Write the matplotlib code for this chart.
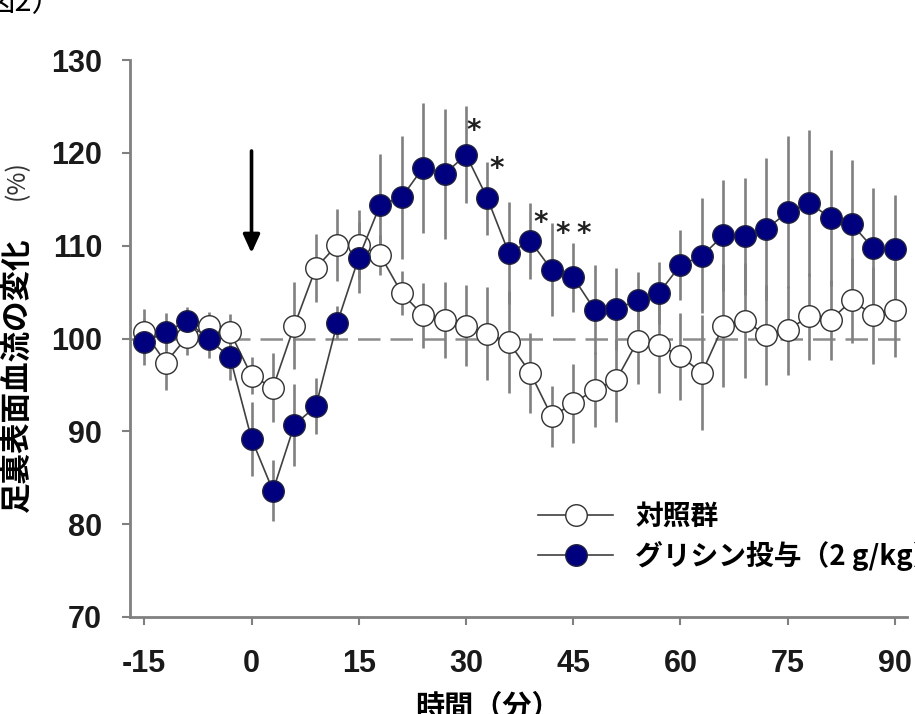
import numpy as np
import matplotlib
matplotlib.use('Agg')
import matplotlib.pyplot as plt

plt.rcParams['font.family'] = ['Liberation Sans', 'Noto Sans CJK JP', 'DejaVu Sans']
plt.rcParams['axes.unicode_minus'] = False

# time points (min), every 3 min
t = np.arange(-15, 91, 3)

ctrl_mean = [100.7, 97.4, 100.2, 101.3, 100.7, 96.0, 94.7, 101.4, 107.6, 110.1,
             110.1, 109.0, 104.9, 102.5, 102.0, 101.4, 100.5, 99.6, 96.3, 91.6,
             93.0, 94.5, 95.5, 99.7, 99.3, 98.1, 96.3, 101.4, 101.9, 100.4,
             100.9, 102.4, 102.0, 104.1, 102.5, 103.1]
ctrl_err = [2.5, 2.9, 2.0, 1.6, 1.9, 2.0, 3.7, 4.7, 3.7, 3.9,
            3.7, 2.2, 2.4, 3.5, 4.1, 4.4, 5.0, 5.5, 4.3, 3.3,
            4.3, 4.0, 4.5, 4.6, 5.2, 4.7, 6.2, 6.6, 6.2, 5.4,
            4.8, 4.7, 4.3, 4.6, 5.2, 5.1]

gly_mean = [99.6, 100.7, 101.9, 99.9, 98.0, 89.2, 83.6, 90.7, 92.7, 101.7,
            108.7, 114.4, 115.2, 118.4, 117.7, 119.8, 115.1, 109.2, 110.5, 107.4,
            106.6, 103.1, 103.2, 104.1, 104.9, 107.9, 108.9, 111.1, 111.0, 111.8,
            113.6, 114.6, 113.0, 112.3, 109.7, 109.6]
gly_err = [2.5, 2.0, 1.5, 2.0, 2.5, 4.0, 3.3, 4.4, 3.0, 1.8,
           3.8, 5.5, 6.6, 7.0, 7.0, 5.2, 3.9, 5.5, 4.1, 5.0,
           3.7, 4.8, 4.4, 3.1, 3.3, 3.8, 6.2, 6.0, 6.3, 7.6,
           8.2, 7.9, 7.3, 6.9, 6.5, 5.9]

# significance marks
star_x = [31.1, 34.35, 40.4, 43.6, 46.4]
star_y = [123.2, 119.2, 113.3, 112.2, 112.2]

labels = ['対照群', 'グリシン投与（2 g/kg）']
xticks = [-15, 0, 15, 30, 45, 60, 75, 90]
yticks = [70, 80, 90, 100, 110, 120, 130]

fig = plt.figure(figsize=(9.15, 7.14), dpi=100)
ax = fig.add_axes([130/915, 1-617/714, (907-130)/915, (617-60)/714])

grey = '#808080'
navy = '#00007f'

ax.axhline(100, color='#8c8c8c', lw=1.8, dashes=(9, 4), zorder=1)

ax.errorbar(t, ctrl_mean, yerr=ctrl_err, fmt='none', ecolor=grey, elinewidth=1.9, capsize=0, zorder=2)
ax.errorbar(t, gly_mean, yerr=gly_err, fmt='none', ecolor=grey, elinewidth=1.9, capsize=0, zorder=2)

ax.plot(t, ctrl_mean, '-o', color='#404040', lw=1.2, ms=15.5, mfc='white', mec='#303030', mew=1.0,
        label=labels[0], zorder=3)
ax.plot(t, gly_mean, '-o', color='#404040', lw=1.2, ms=15.5, mfc=navy, mec='#202040', mew=1.0,
        label=labels[1], zorder=4)

for sx, sy in zip(star_x, star_y):
    ax.annotate('*', (sx, sy), xytext=(0, -6), textcoords='offset points', fontsize=20,
                fontweight='bold', ha='center', va='center', family='DejaVu Sans',
                color='#202020', zorder=5)

# injection arrow
ax.annotate('', xy=(0, 109.2), xytext=(0, 120.2),
            arrowprops=dict(arrowstyle='-|>,head_width=0.25,head_length=0.55',
                            lw=2.6, color='black', mutation_scale=20, shrinkA=0, shrinkB=0))

ax.set_xlim(-17, 91.7)
ax.set_ylim(70, 130)
ax.set_xticks(xticks)
ax.set_yticks(yticks)
ax.tick_params(axis='both', colors=grey, length=6, width=1.5, labelcolor='#1a1a1a')
ax.tick_params(axis='y', pad=14)
ax.tick_params(axis='x', pad=17)
for lab in ax.get_xticklabels() + ax.get_yticklabels():
    lab.set_fontsize(22)
    lab.set_fontweight('bold')
    lab.set_family('Liberation Sans')

for s in ['top', 'right']:
    ax.spines[s].set_visible(False)
for s in ['left', 'bottom']:
    ax.spines[s].set_color(grey)
    ax.spines[s].set_linewidth(2.0)

fig.text(17/915, 1-375/714, '足裏表面血流の変化', rotation=90, ha='center', va='center',
         fontsize=22, fontweight='bold', family=['Noto Sans CJK JP', 'DejaVu Sans'])
fig.text(17/915, 1-180/714, '(%)', rotation=90, ha='center', va='center',
         fontsize=18, family=['Noto Sans CJK JP', 'DejaVu Sans'], color='#333333')
fig.text(488/915, 1-692/714, '時間（分）', ha='center', va='top',
         fontsize=21, fontweight='bold', family=['Noto Sans CJK JP', 'DejaVu Sans'])
fig.text(62/915, 1-18/714, '図2）', ha='right', va='bottom',
         fontsize=22, family=['Noto Sans CJK JP', 'DejaVu Sans'])

leg = ax.legend(loc='upper left', bbox_to_anchor=(538/915, 1-503/714), bbox_transform=fig.transFigure,
                frameon=False, borderpad=0, borderaxespad=0, handlelength=2.7, handletextpad=0.8,
                labelspacing=0.35, prop={'family': ['Noto Sans CJK JP'], 'weight': 'bold', 'size': 20})

fig.savefig('out.png', dpi=100)
